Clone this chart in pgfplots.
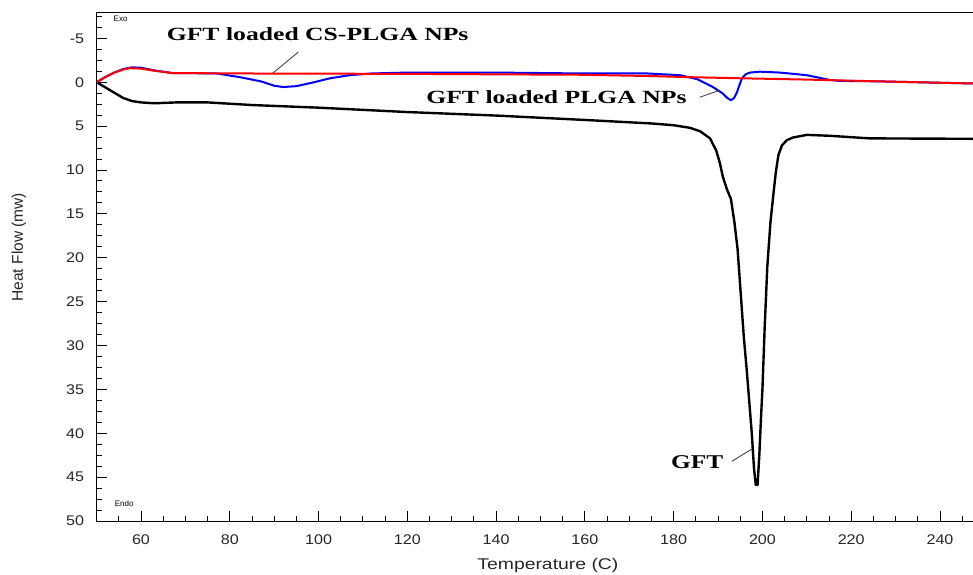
\documentclass[border=0pt]{standalone}
\usepackage{pgfplots}
\pgfplotsset{compat=1.18}
\usepackage{fontspec}
\setmainfont{Liberation Sans}
\newfontfamily\tms{Liberation Serif}
\definecolor{dscblue}{RGB}{0,0,255}
\definecolor{dscred}{RGB}{255,0,0}
\begin{document}
\begin{tikzpicture}[x=1pt,y=1pt]
\begin{axis}[
 at={(0,0)}, anchor=south west,
 scale only axis, width=878pt, height=509pt,
 xmin=50, xmax=247.8, ymin=-8, ymax=50, y dir=reverse,
 xtick={60,80,...,240}, minor xtick={50,55,...,245},
 ytick={-5,0,...,50}, minor ytick={-7.5,-6.25,...,50},
 tick align=inside, xtick pos=bottom, ytick pos=left,
 major tick length=10pt, minor tick length=5pt,
 tick style={black, line width=0.9pt},
 axis line style={line width=1pt},
 /pgf/number format/assume math mode=true,
 ticklabel style={font=\fontsize{14}{16}\selectfont, text=black!85},
 xticklabel={\scalebox{1.15}[1]{\pgfmathprintnumber{\tick}}},
 yticklabel={\scalebox{1.15}[1]{\pgfmathprintnumber{\tick}}},
 xticklabel style={yshift=-10pt},
 yticklabel style={xshift=-9pt},
 xlabel={\scalebox{1.25}[1]{Temperature (C)}},
 ylabel={Heat Flow (mw)},
 label style={font=\fontsize{15.5}{17}\selectfont, text=black!85},
 xlabel style={at={(axis description cs:0.514,-0.088)}, anchor=center},
 ylabel style={at={(axis description cs:-0.0885,0.538)}, anchor=center},
]
% GFT (black)
\addplot[black, line width=2.4pt, line join=round] coordinates {
(50,0) (52,0.6) (54,1.2) (56,1.8) (58,2.15) (60,2.3) (63,2.4) (68,2.3) (75,2.3)
(85,2.6) (100,2.9) (120,3.4) (140,3.8) (160,4.3) (175,4.7) (180,4.9) (183.7,5.2)
(186,5.6) (188.2,6.4) (189.6,7.8) (190.4,9.2) (191.1,10.8) (192,12.2) (192.9,13.3)
(193.7,16) (194.4,19) (195.1,24) (195.8,29) (196.5,33) (197,36.2) (197.6,40)
(198.1,44) (198.5,45.9) (198.9,45.9) (199.3,42.5) (199.7,38) (200,35) (200.5,28)
(201.1,21) (201.8,16) (202.4,13.1) (203,10.3) (203.6,8.3) (204.4,7.2) (205.5,6.6)
(206.9,6.3) (210,6.0) (215,6.1) (224.2,6.4) (247.8,6.45)
};
% GFT loaded PLGA NPs (blue)
\addplot[dscblue, line width=2pt, line join=round] coordinates {
(50,0) (52,-0.6) (54,-1.1) (56,-1.5) (58,-1.7) (60,-1.65) (63,-1.35) (67,-1.05)
(77,-1.0) (82,-0.6) (87,-0.1) (90,0.4) (92,0.55) (95,0.45) (99,0) (102.6,-0.45)
(107,-0.8) (112,-1.0) (120,-1.1) (140,-1.1) (159,-1.0) (174,-1.0) (181.4,-0.8)
(185.3,-0.35) (187.5,0.2) (188.9,0.57) (190.2,1.0) (191.1,1.3) (192.1,1.8) (192.9,2.05)
(193.6,1.8) (194.3,1.1) (194.9,0.2) (195.4,-0.45) (196.2,-0.9) (197.2,-1.1)
(199.4,-1.2) (203.9,-1.1) (210,-0.8) (215.2,-0.25) (217.5,-0.15) (226,-0.1) (247.8,0.15)
};
% GFT loaded CS-PLGA NPs (red)
\addplot[dscred, line width=2pt, line join=round] coordinates {
(50,0) (52,-0.6) (54,-1.1) (56,-1.45) (57.5,-1.6) (60,-1.55) (63,-1.3) (67,-1.05)
(80,-1.0) (120,-0.95) (159,-0.85) (175,-0.7) (184,-0.57) (195,-0.45) (210,-0.3)
(226,-0.1) (247.8,0.15)
};
\draw[black!80, line width=0.8pt] (axis cs:95.4,-3.42) -- (axis cs:89.7,-1.03);
\draw[black!80, line width=0.8pt] (axis cs:185.9,1.71) -- (axis cs:190.4,0.91);
\draw[black!80, line width=0.8pt] (axis cs:193.1,43.2) -- (axis cs:197.6,41.8);
\node[anchor=base, inner sep=0pt] at (axis cs:99.8,-4.78)
  {\scalebox{1.38}[1]{\tms\bfseries\fontsize{18.6}{20}\selectfont GFT loaded CS-PLGA NPs}};
\node[anchor=base, inner sep=0pt] at (axis cs:153.6,2.43)
  {\scalebox{1.38}[1]{\tms\bfseries\fontsize{18.6}{20}\selectfont GFT loaded PLGA NPs}};
\node[anchor=base, inner sep=0pt] at (axis cs:185.3,43.96)
  {\scalebox{1.3}[1]{\tms\bfseries\fontsize{19.5}{20}\selectfont GFT}};
\node[anchor=base, inner sep=0pt, font=\fontsize{8}{9}\selectfont] at (axis cs:55.4,-6.95) {Exo};
\node[anchor=base, inner sep=0pt, font=\fontsize{8}{9}\selectfont] at (axis cs:56.2,48.4) {Endo};
\draw[line width=1pt] (rel axis cs:0,1) -- (rel axis cs:1,1);
\end{axis}
\pgfresetboundingbox
\path[use as bounding box] (-96.6,-53) rectangle (876.4,521);
\end{tikzpicture}
\end{document}
